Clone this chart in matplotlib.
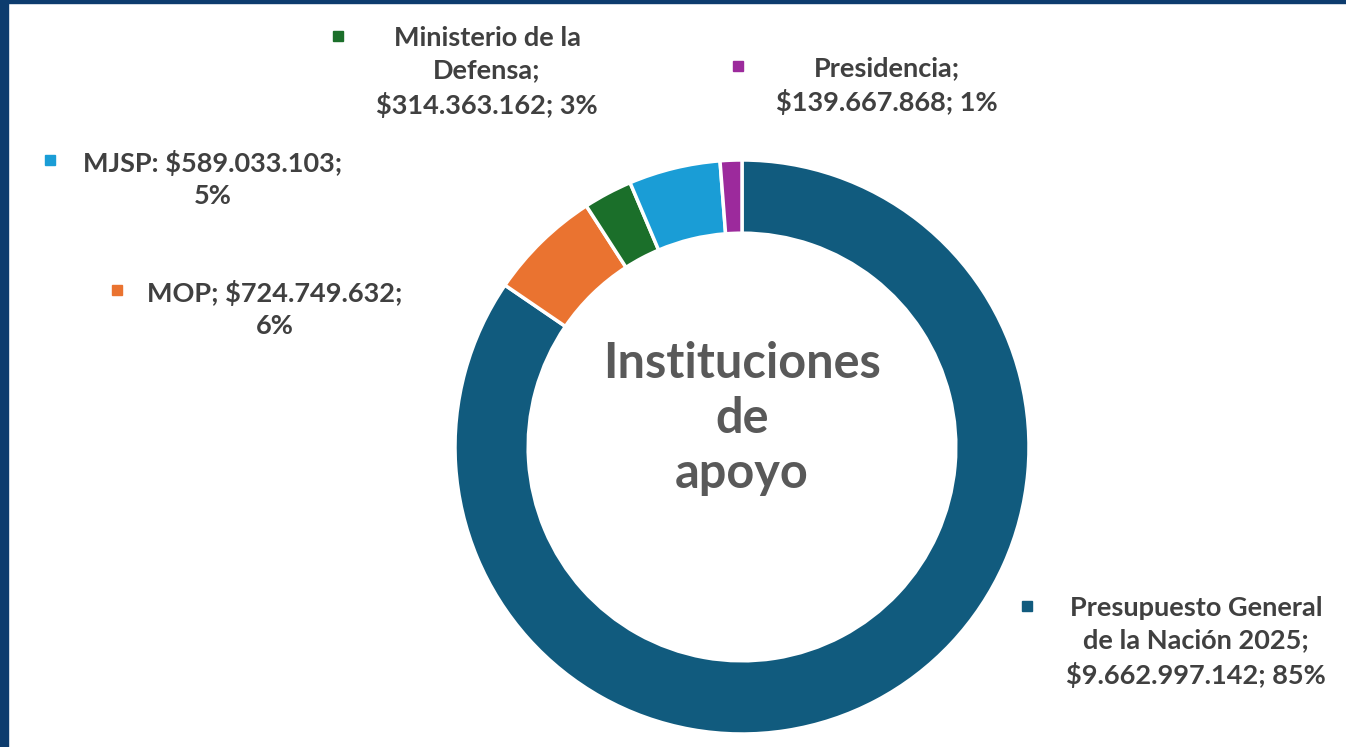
import matplotlib
matplotlib.use("Agg")
import matplotlib.pyplot as plt
from matplotlib.patches import Rectangle

# data
categorias = ["Presupuesto General de la Nación 2025", "MOP", "Ministerio de la Defensa", "MJSP", "Presidencia"]
valores = [9662997142, 724749632, 314363162, 589033103, 139667868]
colores = ["#115B7E", "#EA7330", "#1B6F2A", "#1A9DD6", "#9C2A9C"]
# how each label is broken in the picture ({n}=name, {v}=value, {p}=percent)
formatos = [
    "Presupuesto General\nde la Nación 2025;\n${v}; {p}%",
    "{n}; ${v};\n{p}%",
    "Ministerio de la\nDefensa;\n${v}; {p}%",
    "{n}: ${v};\n{p}%",
    "{n};\n${v}; {p}%",
]
titulo_centro = "Instituciones\nde\napoyo"

W, H = 1346, 747
fig = plt.figure(figsize=(W / 100, H / 100), dpi=100)
fig.patch.set_facecolor("white")

# blue frame (top and left)
fig.patches.append(Rectangle((0, 1 - 3 / H), 1, 3 / H, transform=fig.transFigure, color="#0D3C6E", zorder=0))
fig.patches.append(Rectangle((0, 0), 8 / W, 1, transform=fig.transFigure, color="#0D3C6E", zorder=0))

# donut
cx, cy, R = 742, 447, 287
half = 300
ax = fig.add_axes([(cx - half) / W, (H - cy - half) / H, 2 * half / W, 2 * half / H])
ax.pie(valores, colors=colores, startangle=90, counterclock=False, radius=1,
       wedgeprops=dict(width=0.255, edgecolor="white", linewidth=2.5))
ax.set_xlim(-half / R, half / R)
ax.set_ylim(-half / R, half / R)
ax.set_aspect("equal")
ax.axis("off")

ax.text(0, 0.1, titulo_centro, ha="center", va="center", fontsize=35, fontweight="bold",
        color="#595959", family="Lato", linespacing=1.27)

total = sum(valores)
def miles(x):
    return f"{x:,}".replace(",", ".")

# label layout: text centre x, first line centre y, marker x (pixels)
pos = [(1196, 608, 1027), (275, 292, 117), (487, 38, 338), (213, 162, 50), (887, 68, 738)]
for n, v, c, f, (tx, ty, mx) in zip(categorias, valores, colores, formatos, pos):
    p = round(v / total * 100)
    txt = f.format(n=n, v=miles(v), p=p)
    fig.text(tx / W, 1 - (ty - 12) / H, txt, ha="center", va="top", fontsize=19.5,
             fontweight="bold", color="#404040", family="Lato", linespacing=1.42)
    s = 10
    fig.patches.append(Rectangle(((mx - s / 2) / W, 1 - (ty - 2 + s / 2) / H), s / W, s / H,
                                 transform=fig.transFigure, color=c))

fig.savefig("out.png", dpi=100)
